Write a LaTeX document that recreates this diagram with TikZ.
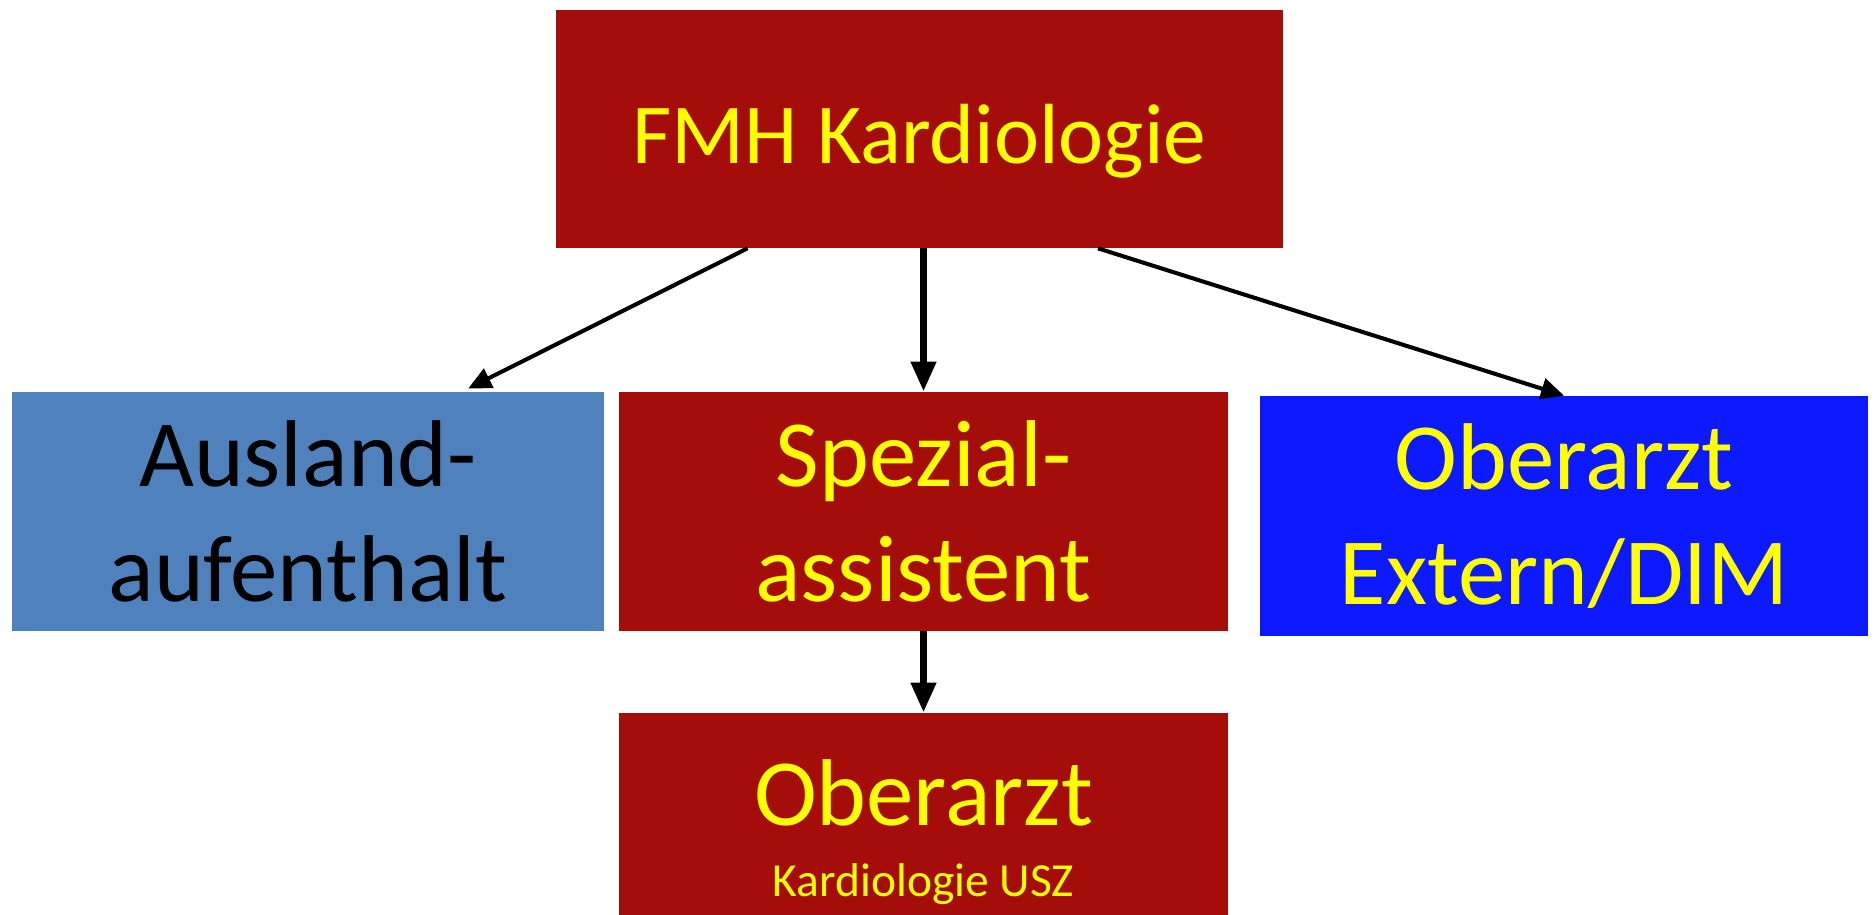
\documentclass[tikz,border=0pt]{standalone}
\usepackage{fontspec}
\setmainfont{Carlito}
\usetikzlibrary{arrows.meta}
\definecolor{kardrot}{HTML}{A50D0A}
\definecolor{auslblau}{HTML}{4F81BD}
\definecolor{extblau}{HTML}{0D1AFF}
\definecolor{gelb}{HTML}{FFFF00}
\tikzset{
  box/.style={fill=kardrot, text=gelb, inner sep=0pt, align=center, font=\fontsize{54}{65}\selectfont},
  pfeil/.style={-{Triangle[length=0.46cm,width=0.42cm]}, line width=2.3pt},
  dickpfeil/.style={-{Triangle[length=0.6cm,width=0.48cm]}, line width=4pt}
}
\begin{document}
\begin{tikzpicture}[x=0.02cm,y=-0.02cm]
\useasboundingbox (0,0) rectangle (1875,915);
\node[box, font=\fontsize{48.6}{58}\selectfont, minimum width=14.54cm, minimum height=4.76cm] (fmh) at (919.5,129)
  {\rule{0pt}{48pt}FMH Kardiologie};
\node[box, fill=auslblau, text=black, minimum width=11.84cm, minimum height=4.78cm] (ausland) at (308,511.5)
  {Ausland-\\aufenthalt};
\node[box, minimum width=12.18cm, minimum height=4.78cm] (spezial) at (923.5,511.5)
  {Spezial-\\assistent};
\node[box, fill=extblau, minimum width=12.16cm, minimum height=4.8cm] (extern) at (1564,516)
  {Oberarzt\\Extern/DIM};
\node[box, font=\fontsize{54}{40}\selectfont, minimum width=12.18cm, minimum height=4.04cm] (oberarzt) at (923.5,814)
  {\rule{0pt}{58pt}Oberarzt\\{\fontsize{27}{40}\selectfont Kardiologie USZ}};
% Pfeile
\draw[pfeil, shorten >=0.14cm] ([xshift=-3.44cm]fmh.south) -- ([xshift=3.08cm]ausland.north);
\draw[dickpfeil] (spezial.north |- fmh.south) -- (spezial.north);
\draw[pfeil] ([xshift=3.57cm]fmh.south) -- (extern.north);
\draw[dickpfeil] (spezial.south) -- (oberarzt.north);
\end{tikzpicture}
\end{document}
